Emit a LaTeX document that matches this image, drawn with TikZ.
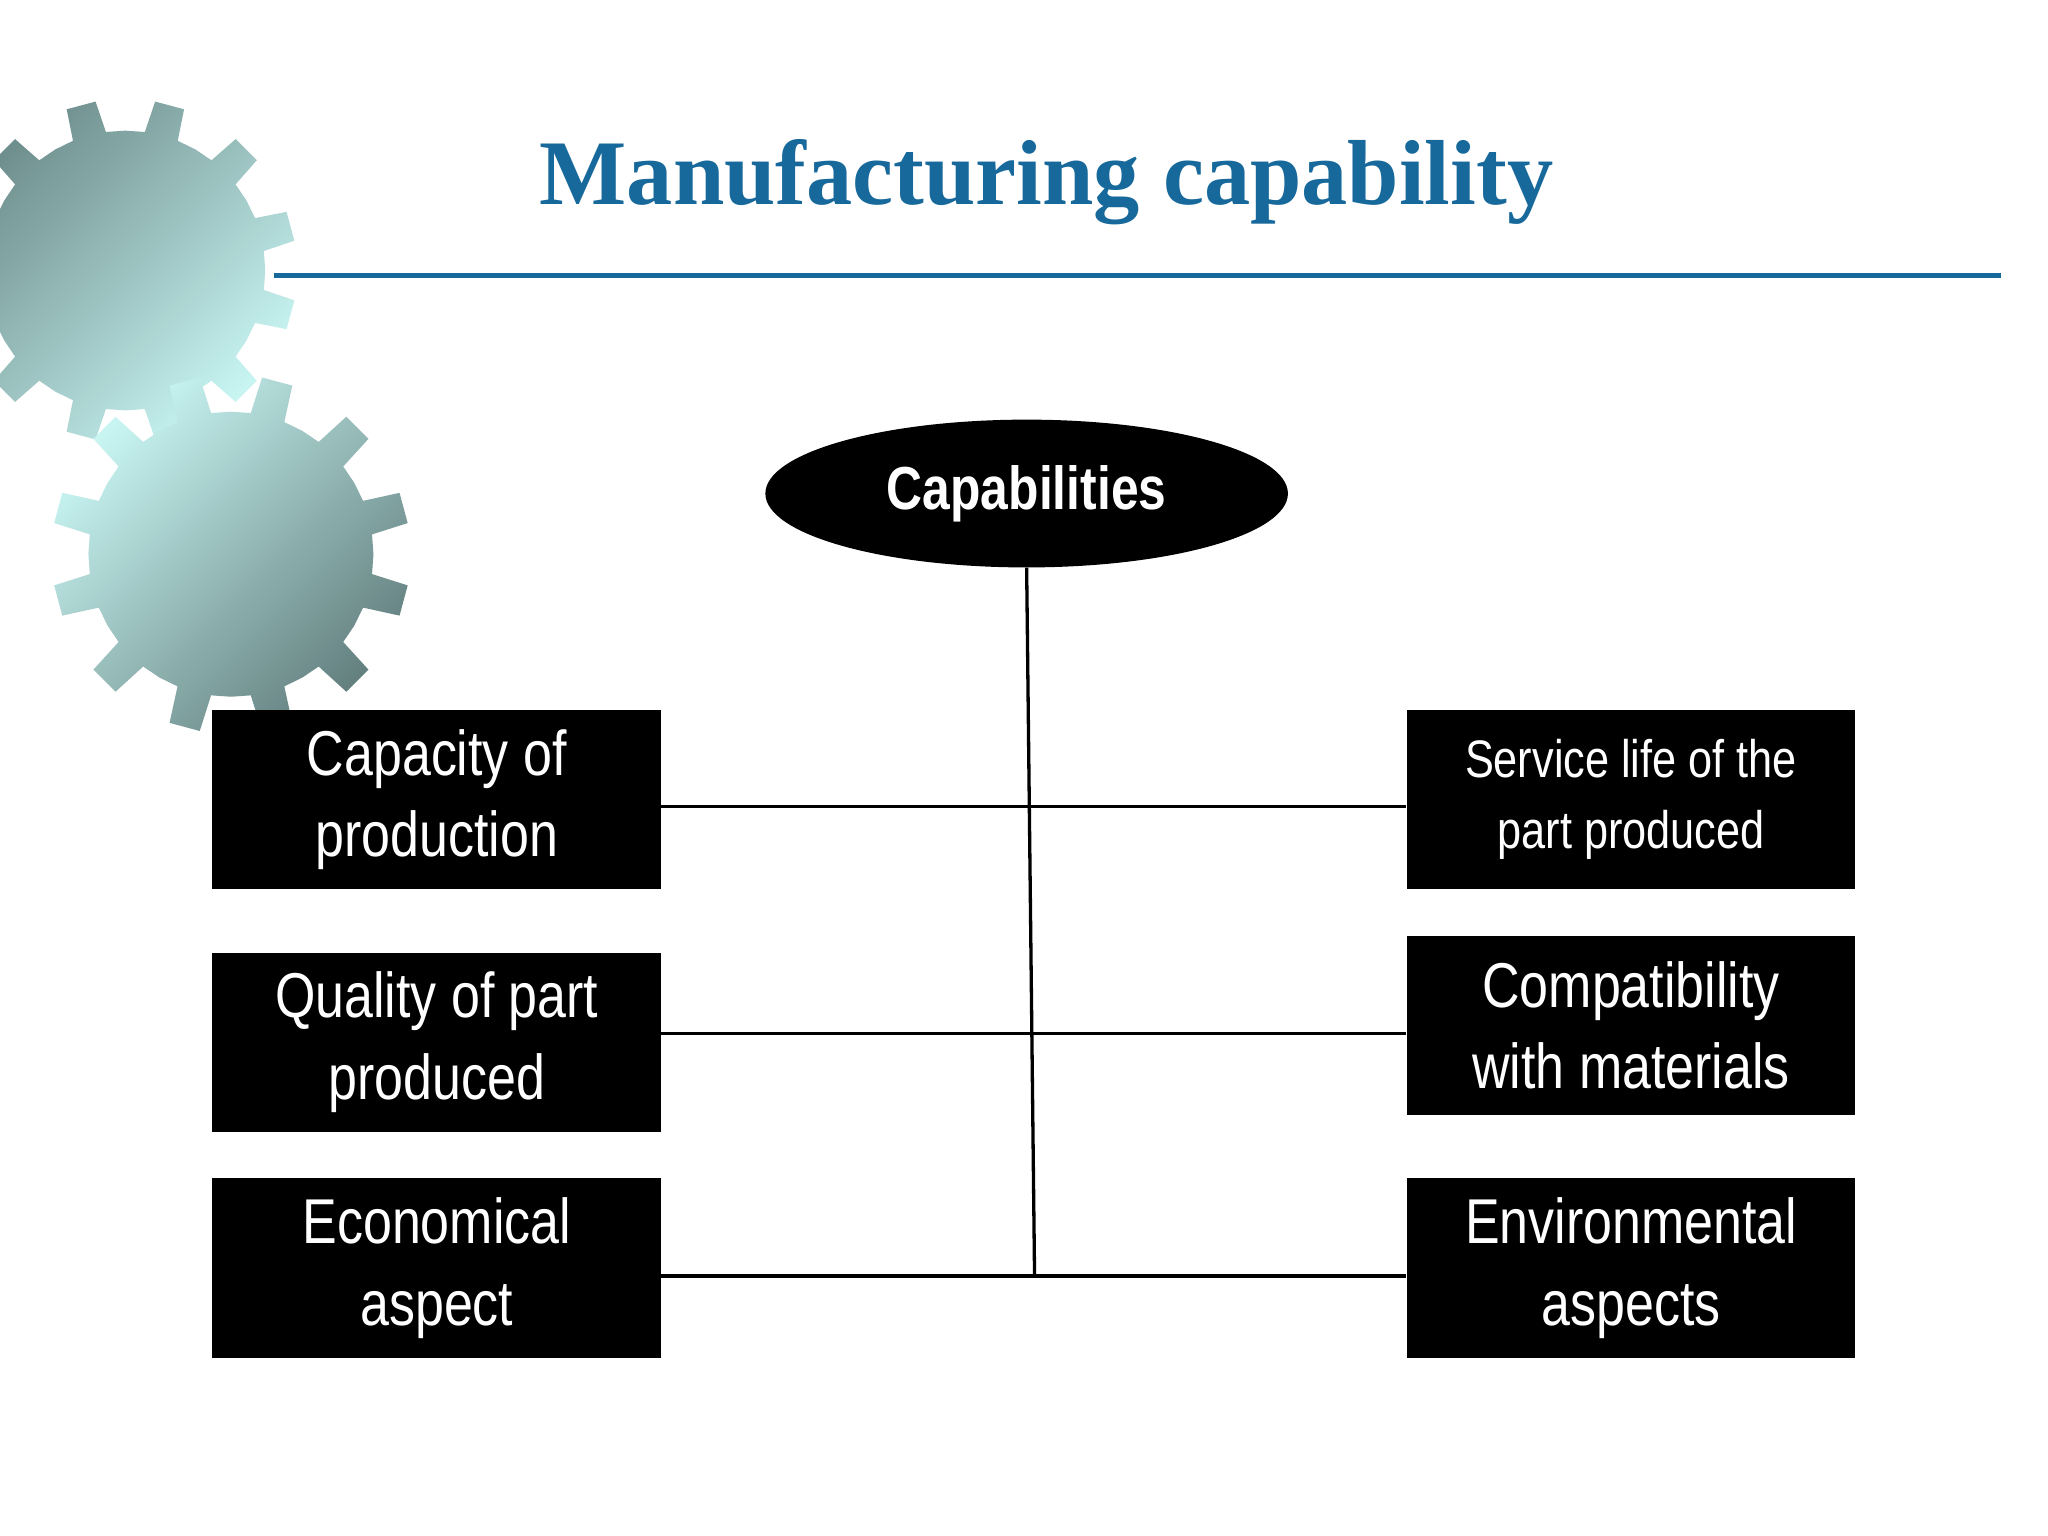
\documentclass[tikz,border=0pt]{standalone}
\usetikzlibrary{calc,shapes.geometric}
\usepackage{fontspec}
\setmainfont{Liberation Serif}
\newfontfamily\narrowsans[FakeStretch=0.82]{Liberation Sans}
\definecolor{titleblue}{HTML}{17699B}
\definecolor{gearlight}{HTML}{C8F5F2}
\definecolor{geardark}{HTML}{6F8F8E}
\tikzset{
  capbox/.style={fill=black,text=white,minimum width=340pt,minimum height=136pt,inner sep=0pt,align=center,font=\narrowsans\fontsize{48}{62}\selectfont},
  link/.style={line width=2.5pt,black}
}
\begin{document}
\begin{tikzpicture}[x=1pt,y=-1pt]
\useasboundingbox (0,0) rectangle (1552,1164);
\fill[white] (0,0) rectangle (1552,1164);
\begin{scope}
\clip (0,0) rectangle (1552,1164);
% gear 1
\shade[left color=gearlight,right color=geardark,shading angle=-135]
  ($(95,205)+(0:106)$)
  \foreach \i in {0,...,11}{
    -- ($(95,205)+(\i*30+8:106)$) -- ($(95,205)+(\i*30+10:130)$) -- ($(95,205)+(\i*30+20:130)$) -- ($(95,205)+(\i*30+22:106)$) -- ($(95,205)+(\i*30+30:106)$)
  } -- cycle;
% gear 2
\shade[left color=geardark!90!black,right color=gearlight,shading angle=-135]
  ($(175,420)+(0:108)$)
  \foreach \i in {0,...,11}{
    -- ($(175,420)+(\i*30+8:108)$) -- ($(175,420)+(\i*30+10:136)$) -- ($(175,420)+(\i*30+20:136)$) -- ($(175,420)+(\i*30+22:108)$) -- ($(175,420)+(\i*30+30:108)$)
  } -- cycle;
\end{scope}
\node[font=\bfseries\fontsize{70}{80}\selectfont,text=titleblue] (title) at (793,138) {Manufacturing capability};
\coordinate (la) at (208,209); \coordinate (lb) at (1516,209);
\draw[titleblue,line width=4pt] (la) -- (lb);
\node[ellipse,fill=black,minimum width=396pt,minimum height=112pt,inner sep=0pt,text=white,font=\narrowsans\bfseries\fontsize{46}{50}\selectfont] (cap) at (778,374) {Capabilities};
\node[capbox] (l1) at (331,606) {Capacity of\\production};
\node[capbox] (l2) at (331,790) {Quality of part\\produced};
\node[capbox] (l3) at (331,961) {Economical\\aspect};
\node[capbox,font=\narrowsans\fontsize{40}{54}\selectfont] (r1) at (1236,606) {Service life of the\\part produced};
\node[capbox] (r2) at (1236,777) {Compatibility\\with materials};
\node[capbox] (r3) at (1236,961) {Environmental\\aspects};
\coordinate (j3) at (784,967);
\draw[link] (cap.south) -- (j3);
\draw[link] (l1.east |- 0,611) -- (r1.west |- 0,611);
\draw[link] (l2.east |- 0,783) -- (r2.west |- 0,783);
\draw[link] (l3.east |- j3) -- (r3.west |- j3);
\end{tikzpicture}
\end{document}
